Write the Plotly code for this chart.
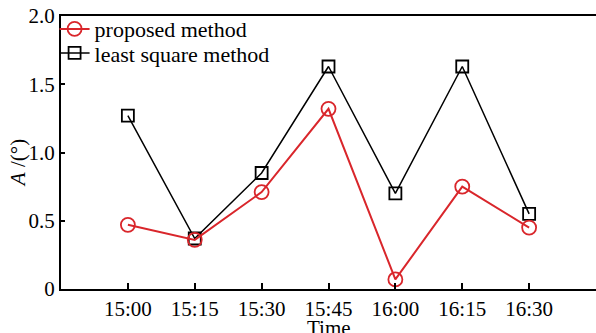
import plotly.graph_objects as go

times = ["15:00", "15:15", "15:30", "15:45", "16:00", "16:15", "16:30"]
proposed = [0.47, 0.36, 0.71, 1.32, 0.07, 0.75, 0.45]
least_square = [1.27, 0.37, 0.85, 1.63, 0.70, 1.63, 0.55]
y_tickvals = [0, 0.5, 1.0, 1.5, 2.0]
y_ticktext = ["0", "0.5", "1.0", "1.5", "2.0"]

FONT = "Liberation Serif"
RED = "#d9262b"

fig = go.Figure()
fig.add_trace(go.Scatter(
    x=times, y=least_square, mode="lines+markers", name="least square method",
    line=dict(color="black", width=1.5),
    marker=dict(symbol="square-open", size=12, color="black", line=dict(width=1.8)),
    legend="legend2", showlegend=True,
))
fig.add_trace(go.Scatter(
    x=times, y=proposed, mode="lines+markers", name="proposed method",
    line=dict(color=RED, width=2),
    marker=dict(symbol="circle-open", size=14, color=RED, line=dict(width=1.8)),
    legend="legend", showlegend=True,
))

legend_common = dict(
    font=dict(family=FONT, size=22, color="black"),
    bgcolor="rgba(0,0,0,0)", borderwidth=0,
    xanchor="left", yanchor="middle", itemwidth=30,
)
fig.update_layout(
    width=596, height=333,
    showlegend=True,
    margin=dict(l=61, r=0, t=16, b=44),
    plot_bgcolor="white", paper_bgcolor="white",
    font=dict(family=FONT, size=21, color="black"),
    legend=dict(x=-0.012, y=0.952, **legend_common),
    legend2=dict(x=-0.012, y=0.864, **legend_common),
    xaxis=dict(
        type="category", range=[-1, 7], automargin=False,
        showline=True, linecolor="black", linewidth=2, mirror=True,
        ticks="inside", ticklen=6, tickwidth=1.5, tickcolor="black",
        showgrid=False, zeroline=False,
        tickfont=dict(family=FONT, size=21),
    ),
    yaxis=dict(
        range=[0, 2.0], automargin=False,
        tickvals=y_tickvals, ticktext=y_ticktext,
        showline=True, linecolor="black", linewidth=2, mirror=False,
        ticks="inside", ticklen=4, tickwidth=2, tickcolor="black",
        showgrid=False, zeroline=False,
        tickfont=dict(family=FONT, size=21),
    ),
    annotations=[
        dict(
            text="Time", x=0.5, y=-0.143, xref="paper", yref="paper",
            xanchor="center", yanchor="middle", showarrow=False,
            font=dict(family=FONT, size=21, color="black"),
        ),
        dict(
            text="<i>A</i> /(°)", x=-0.079, y=0.46, xref="paper", yref="paper",
            xanchor="center", yanchor="middle", showarrow=False, textangle=-90,
            font=dict(family=FONT, size=21, color="black"),
        ),
    ],
)

fig.write_html("out.html")
